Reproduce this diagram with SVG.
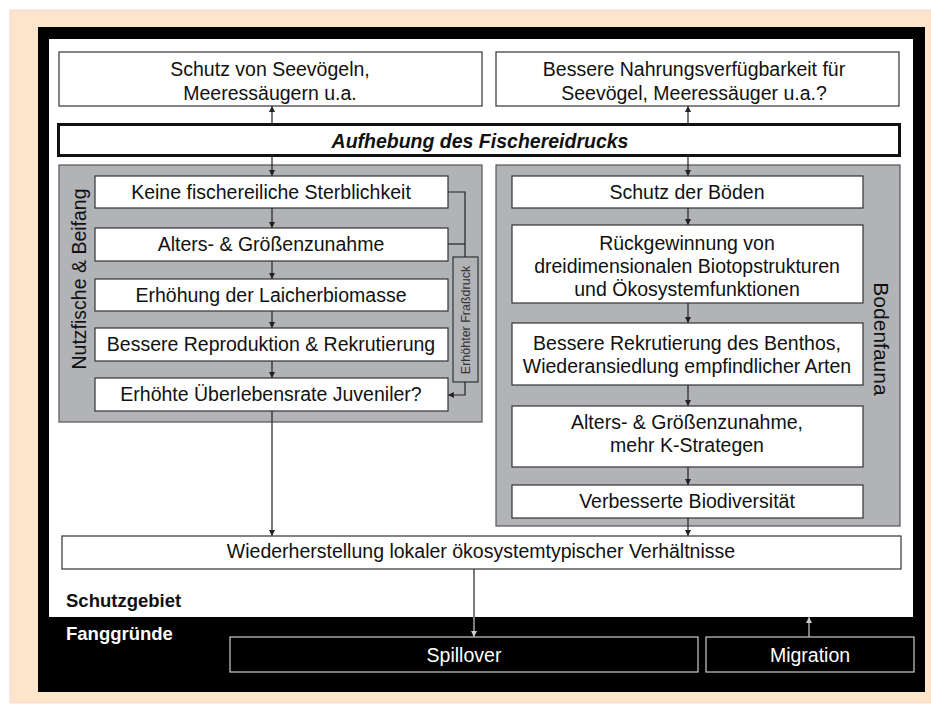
<svg xmlns="http://www.w3.org/2000/svg" width="931" height="705" viewBox="0 0 931 705">
<defs>
<style>
.t{font-family:"Liberation Sans",Arial,sans-serif;font-size:19.5px;fill:#111;text-anchor:middle}
.box{fill:#fff;stroke:#333;stroke-width:1.2}
.panel{fill:#b2b3b7;stroke:#555;stroke-width:1.2}
.c{stroke:#222;stroke-width:1.2;fill:none}
.cl{stroke:#ccc;stroke-width:1.2;fill:none}
.dark{fill:#000;stroke:#ccc;stroke-width:1.2}
</style>
<marker id="a" viewBox="0 0 10 10" refX="9" refY="5" markerWidth="6" markerHeight="6" orient="auto" markerUnits="userSpaceOnUse">
<path d="M0,0 L10,5 L0,10 z" fill="#222"/>
</marker>
<marker id="al" viewBox="0 0 10 10" refX="9" refY="5" markerWidth="6" markerHeight="6" orient="auto" markerUnits="userSpaceOnUse">
<path d="M0,0 L10,5 L0,10 z" fill="#ccc"/>
</marker>
</defs>
<rect x="0" y="0" width="931" height="705" fill="#fff"/>
<rect x="10" y="10" width="921" height="693" fill="#fde5cb" stroke="#f8d6cf" stroke-width="1"/>
<rect x="38" y="27" width="887" height="665" fill="#000"/>
<rect x="49" y="39" width="864" height="578" fill="#fff"/>

<g id="top-left">
<rect class="box" x="59" y="52" width="423" height="54"/>
<text class="t" x="270" y="76">Schutz von Seevögeln,</text>
<text class="t" x="270" y="100">Meeressäugern u.a.</text>
</g>
<g id="top-right">
<rect class="box" x="496" y="52" width="403" height="54"/>
<text class="t" x="694" y="76">Bessere Nahrungsverfügbarkeit für</text>
<text class="t" x="694" y="100">Seevögel, Meeressäuger u.a.?</text>
</g>
<g id="aufhebung">
<rect x="58.5" y="124.5" width="841" height="31" fill="#fff" stroke="#111" stroke-width="3"/>
<text class="t" x="480" y="148" style="font-weight:bold;font-style:italic">Aufhebung des Fischereidrucks</text>
</g>

<g id="panel-left">
<rect class="panel" x="59" y="165" width="423" height="257"/>
<text class="t" transform="translate(86,279) rotate(-90)">Nutzfische &amp; Beifang</text>
</g>
<g id="panel-right">
<rect class="panel" x="496" y="165" width="404" height="361"/>
<text class="t" transform="translate(874,339) rotate(90)" style="font-size:21px">Bodenfauna</text>
</g>

<g id="l1"><rect class="box" x="95" y="176" width="353" height="32"/><text class="t" x="271" y="199">Keine fischereiliche Sterblichkeit</text></g>
<g id="l2"><rect class="box" x="95" y="228" width="353" height="33"/><text class="t" x="271" y="251">Alters- &amp; Größenzunahme</text></g>
<g id="l3"><rect class="box" x="95" y="279" width="353" height="32"/><text class="t" x="271" y="302">Erhöhung der Laicherbiomasse</text></g>
<g id="l4"><rect class="box" x="95" y="328" width="353" height="33"/><text class="t" x="271" y="351">Bessere Reproduktion &amp; Rekrutierung</text></g>
<g id="l5"><rect class="box" x="95" y="378" width="353" height="33"/><text class="t" x="271" y="401">Erhöhte Überlebensrate Juveniler?</text></g>
<g id="frassdruck">
<rect class="panel" x="453" y="257" width="25" height="125" style="stroke:#333"/>
<text transform="translate(470,320) rotate(-90)" style="font-family:'Liberation Sans',Arial,sans-serif;font-size:12.5px;fill:#333;text-anchor:middle">Erhöhter Fraßdruck</text>
</g>

<g id="r1"><rect class="box" x="512" y="176" width="351" height="32"/><text class="t" x="687" y="199">Schutz der Böden</text></g>
<g id="r2"><rect class="box" x="512" y="225" width="351" height="78"/>
<text class="t" x="687" y="250">Rückgewinnung von</text>
<text class="t" x="687" y="273">dreidimensionalen Biotopstrukturen</text>
<text class="t" x="687" y="296">und Ökosystemfunktionen</text></g>
<g id="r3"><rect class="box" x="512" y="323" width="351" height="62"/>
<text class="t" x="687" y="350">Bessere Rekrutierung des Benthos,</text>
<text class="t" x="687" y="373">Wiederansiedlung empfindlicher Arten</text></g>
<g id="r4"><rect class="box" x="512" y="406" width="351" height="61"/>
<text class="t" x="687" y="429">Alters- &amp; Größenzunahme,</text>
<text class="t" x="687" y="452">mehr K-Strategen</text></g>
<g id="r5"><rect class="box" x="512" y="485" width="351" height="33"/><text class="t" x="687" y="508">Verbesserte Biodiversität</text></g>

<g id="wiederherstellung">
<rect class="box" x="62" y="536" width="839" height="33"/>
<text class="t" x="481" y="558">Wiederherstellung lokaler ökosystemtypischer Verhältnisse</text>
</g>
<g id="labels">
<text x="66" y="607" style="font-family:'Liberation Sans',Arial,sans-serif;font-size:18.5px;font-weight:bold;fill:#111">Schutzgebiet</text>
<text x="66" y="640" style="font-family:'Liberation Sans',Arial,sans-serif;font-size:18.5px;font-weight:bold;fill:#fff">Fanggründe</text>
</g>
<g id="spillover">
<rect class="dark" x="230" y="637" width="468" height="35"/>
<text class="t" x="464" y="662" style="fill:#fff">Spillover</text>
</g>
<g id="migration">
<rect class="dark" x="706" y="637" width="208" height="35"/>
<text class="t" x="810" y="662" style="fill:#fff">Migration</text>
</g>

<g id="connectors">
<line class="c" x1="272" y1="124" x2="272" y2="106.5" marker-end="url(#a)"/>
<line class="c" x1="688" y1="124" x2="688" y2="106.5" marker-end="url(#a)"/>
<line class="c" x1="272" y1="156" x2="272" y2="175.5" marker-end="url(#a)"/>
<line class="c" x1="688" y1="156" x2="688" y2="175.5" marker-end="url(#a)"/>
<line class="c" x1="272" y1="208" x2="272" y2="227.5" marker-end="url(#a)"/>
<line class="c" x1="272" y1="261" x2="272" y2="278.5" marker-end="url(#a)"/>
<line class="c" x1="272" y1="311" x2="272" y2="327.5" marker-end="url(#a)"/>
<line class="c" x1="272" y1="361" x2="272" y2="377.5" marker-end="url(#a)"/>
<line class="c" x1="272" y1="411" x2="272" y2="535.5" marker-end="url(#a)"/>
<line class="c" x1="688" y1="208" x2="688" y2="224.5" marker-end="url(#a)"/>
<line class="c" x1="688" y1="303" x2="688" y2="322.5" marker-end="url(#a)"/>
<line class="c" x1="688" y1="385" x2="688" y2="405.5" marker-end="url(#a)"/>
<line class="c" x1="688" y1="467" x2="688" y2="484.5" marker-end="url(#a)"/>
<line class="c" x1="688" y1="518" x2="688" y2="535.5" marker-end="url(#a)"/>
<polyline class="c" points="448,192 465,192 465,257"/>
<line class="c" x1="448" y1="244" x2="465" y2="244"/>
<polyline class="c" points="465,382 465,395 448.5,395" marker-end="url(#a)"/>
<line class="c" x1="474" y1="569" x2="474" y2="617"/>
<line class="cl" x1="474" y1="617" x2="474" y2="636.5" marker-end="url(#al)"/>
<line class="cl" x1="809" y1="637" x2="809" y2="617.5" marker-end="url(#al)"/>
</g>
</svg>
